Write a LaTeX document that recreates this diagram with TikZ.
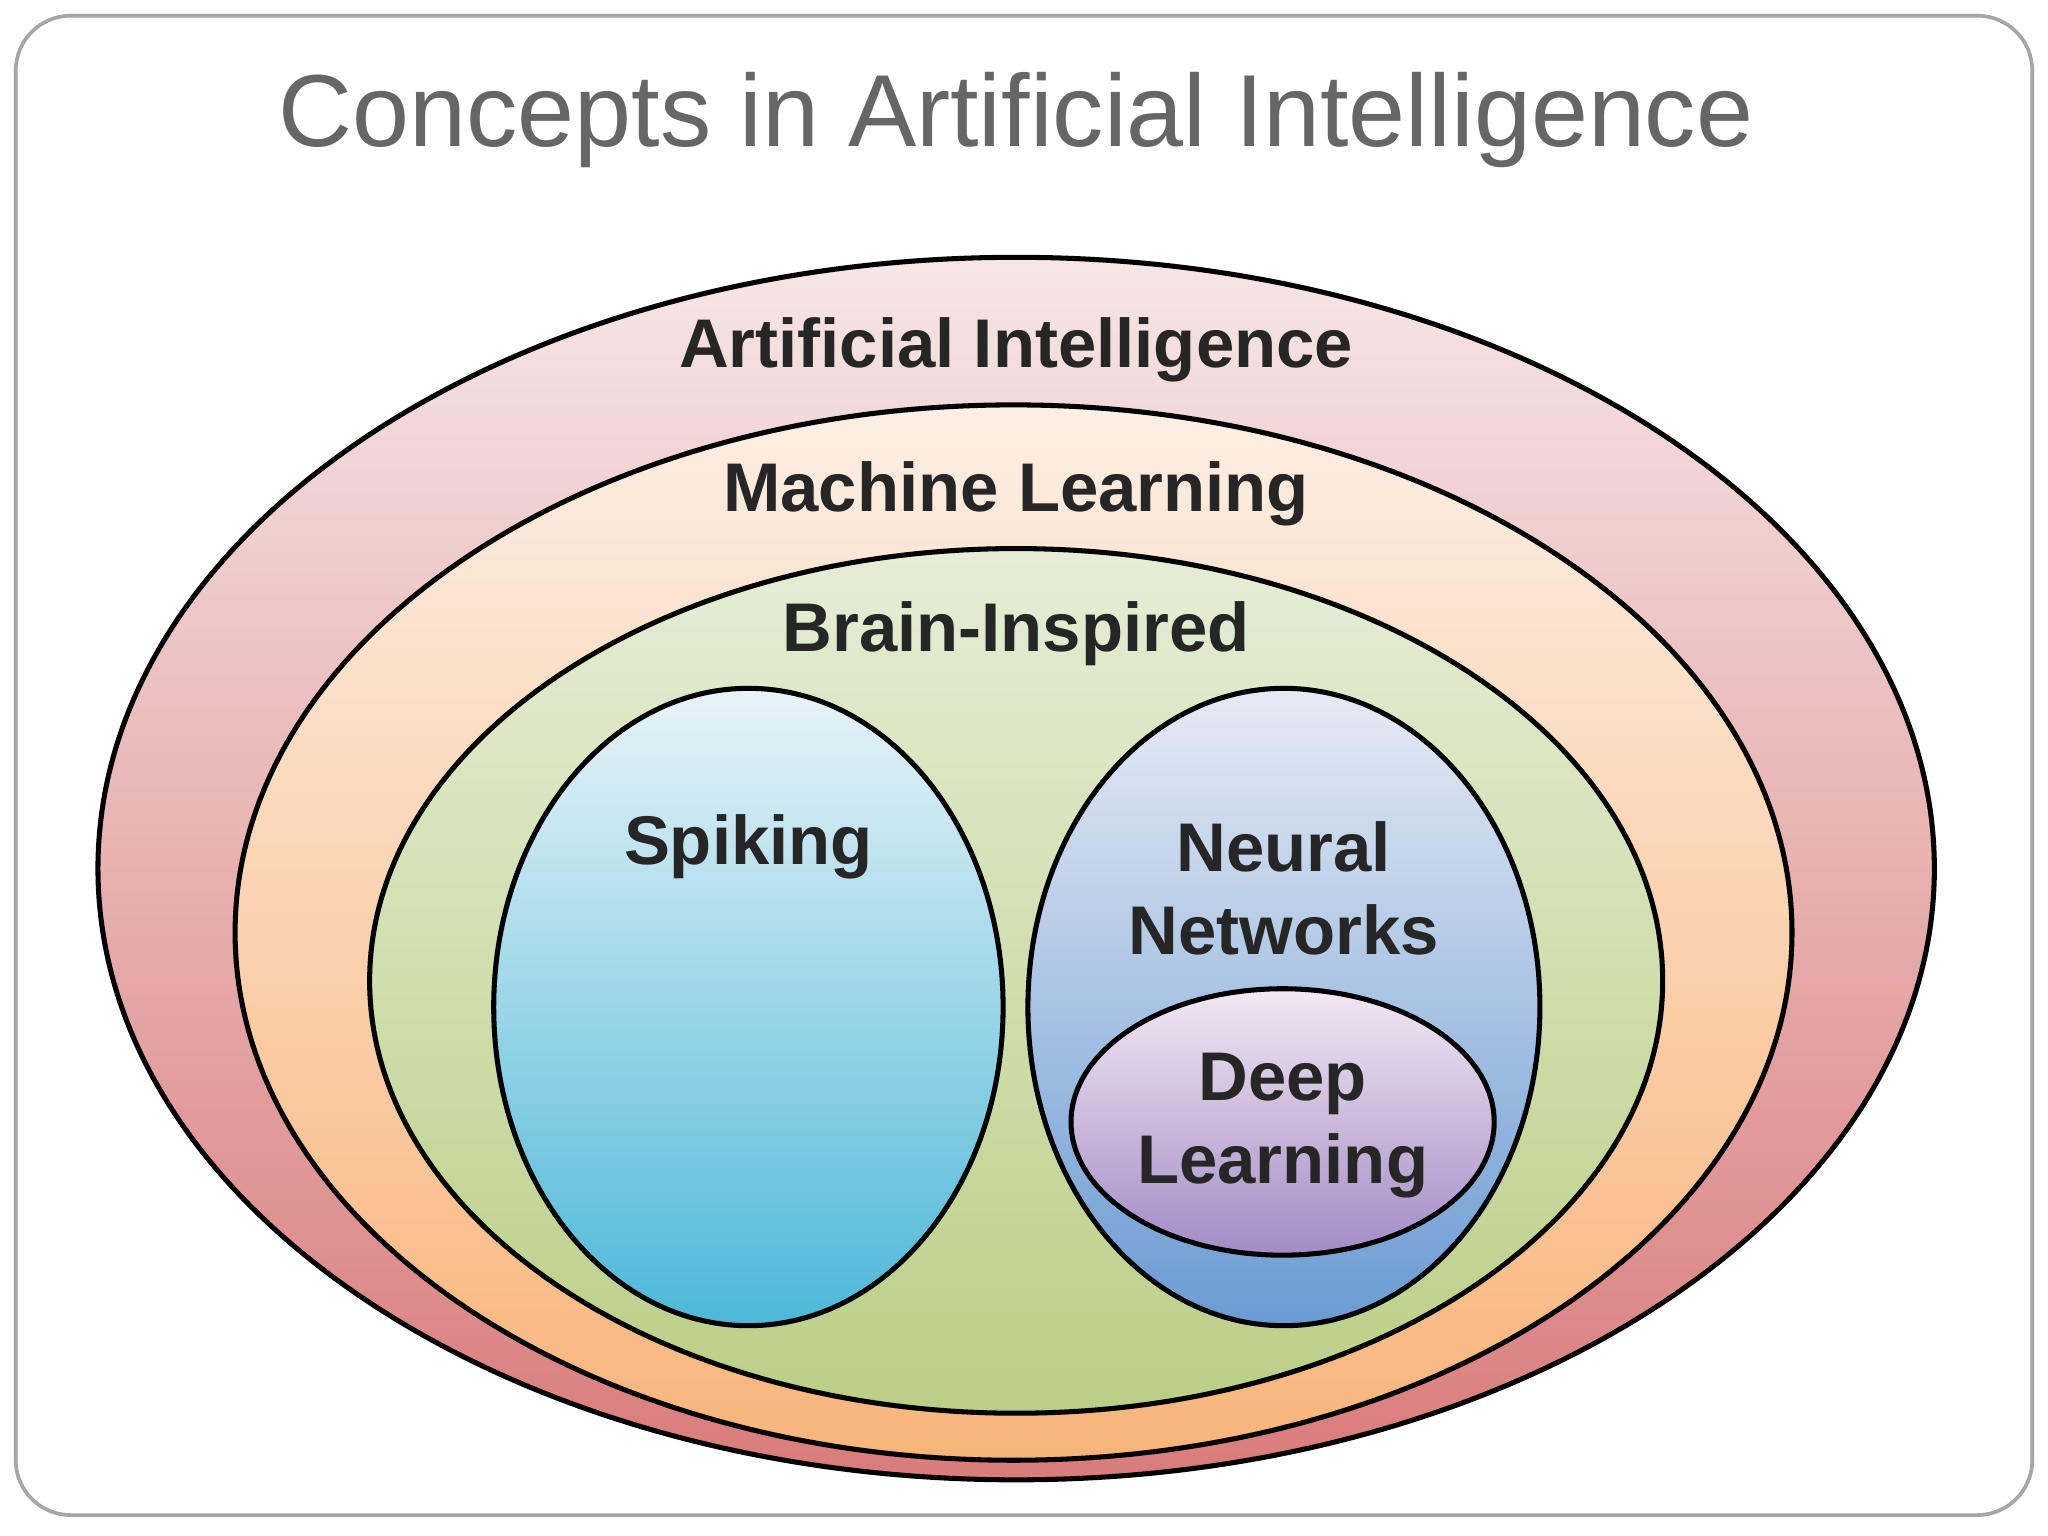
\documentclass[tikz,border=0pt]{standalone}
\usepackage{fontspec}
\setmainfont{Liberation Sans}
\definecolor{aitop}{HTML}{F6E6E6}\definecolor{aibot}{HTML}{D97B7B}
\definecolor{mltop}{HTML}{FCEFE4}\definecolor{mlbot}{HTML}{F8B47A}
\definecolor{bitop}{HTML}{E6EDD6}\definecolor{bibot}{HTML}{B9CF85}
\definecolor{sptop}{HTML}{E8F3F8}\definecolor{spbot}{HTML}{4DB8D8}
\definecolor{nntop}{HTML}{E6EAF4}\definecolor{nnbot}{HTML}{6A9BD2}
\definecolor{dltop}{HTML}{F2E8F2}\definecolor{dlbot}{HTML}{A38BC6}
\begin{document}
\begin{tikzpicture}[x=0.01cm,y=-0.01cm,
  ell/.style={draw=black,line width=1.1pt},
  lab/.style={font=\bfseries\fontsize{15}{18}\selectfont,align=center,text=black!85}]
\useasboundingbox (0,0) rectangle (1568,1176);
\fill[white] (0,0) rectangle (1568,1176);
\draw[gray!70,line width=0.8pt,rounded corners=12pt] (12,12) rectangle (1556,1160);
\node[text=black!60,font=\fontsize{22.3}{26}\selectfont] (title) at (778,92) {Concepts in Artificial Intelligence};
\path[ell,top color=aitop,bottom color=aibot] (778,665) ellipse [x radius=703,y radius=468];
\path[ell,top color=mltop,bottom color=mlbot] (776,714) ellipse [x radius=596,y radius=404];
\path[ell,top color=bitop,bottom color=bibot] (778,751) ellipse [x radius=495,y radius=331];
\path[ell,top color=sptop,bottom color=spbot] (573,771) ellipse [x radius=195,y radius=244];
\path[ell,top color=nntop,bottom color=nnbot] (983,771) ellipse [x radius=196,y radius=244];
\path[ell,top color=dltop,bottom color=dlbot] (982,859) ellipse [x radius=162,y radius=102];
\node[lab] (ai) at (778,268) {Artificial Intelligence};
\node[lab] (ml) at (778,378) {Machine Learning};
\node[lab] (bi) at (778,485) {Brain-Inspired};
\node[lab] (sp) at (573,648) {Spiking};
\node[lab] (nn) at (983,680) {Neural\\Networks};
\node[lab] (dl) at (982,862) {Deep\\Learning};
\end{tikzpicture}
\end{document}
